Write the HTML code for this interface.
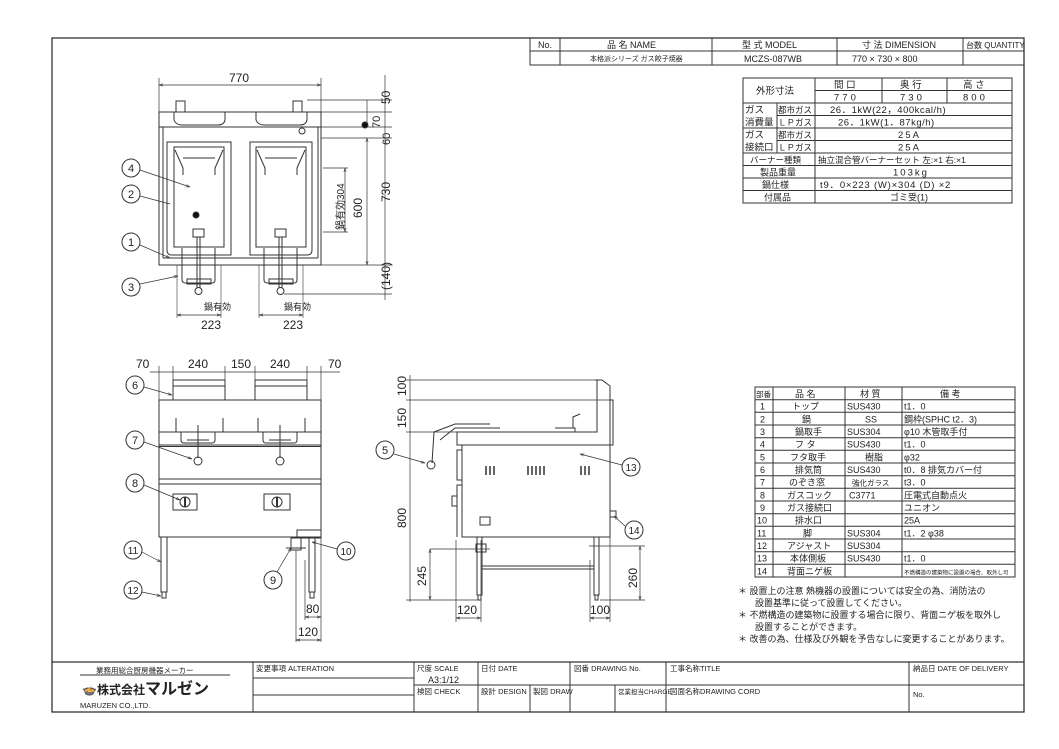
<!DOCTYPE html>
<html><head><meta charset="utf-8"><style>
html,body{margin:0;padding:0;background:#fff;}
svg{display:block;}
text{font-family:"Liberation Sans","Noto Sans CJK JP",sans-serif;fill:#222;}
</style></head><body>
<svg width="1059" height="749" viewBox="0 0 1059 749" xmlns="http://www.w3.org/2000/svg">
<defs>
<marker id="a" viewBox="0 0 10 10" refX="10" refY="5" markerWidth="6" markerHeight="6" orient="auto-start-reverse"><path d="M0,2 L10,5 L0,8" fill="none" stroke="#333" stroke-width="1.2"/></marker>
</defs>
<g fill="none" stroke="#333" stroke-width="1">
<rect x="52" y="38" width="972" height="674" stroke-width="1.3"/>
<rect x="530" y="38" width="494" height="27"/>
<line x1="530" y1="51" x2="1024" y2="51"/>
<line x1="560" y1="38" x2="560" y2="65"/>
<line x1="712" y1="38" x2="712" y2="65"/>
<line x1="837" y1="38" x2="837" y2="65"/>
<line x1="963" y1="38" x2="963" y2="65"/>
<!-- spec table -->
<rect x="743" y="78" width="269" height="125"/>
<line x1="815" y1="78" x2="815" y2="203"/>
<line x1="815" y1="90.5" x2="1012" y2="90.5"/>
<line x1="882" y1="78" x2="882" y2="103"/>
<line x1="947" y1="78" x2="947" y2="103"/>
<line x1="743" y1="103" x2="1012" y2="103"/>
<line x1="777" y1="103" x2="777" y2="153"/>
<line x1="777" y1="115.5" x2="1012" y2="115.5"/>
<line x1="743" y1="128" x2="1012" y2="128"/>
<line x1="777" y1="140.5" x2="1012" y2="140.5"/>
<line x1="743" y1="153" x2="1012" y2="153"/>
<line x1="743" y1="165.5" x2="1012" y2="165.5"/>
<line x1="743" y1="178" x2="1012" y2="178"/>
<line x1="743" y1="190.5" x2="1012" y2="190.5"/>
<!-- parts table -->
<rect x="755" y="387" width="260" height="190"/>
<line x1="773" y1="387" x2="773" y2="577"/>
<line x1="845" y1="387" x2="845" y2="577"/>
<line x1="902" y1="387" x2="902" y2="577"/>
<g>
<line x1="755" y1="399.7" x2="1015" y2="399.7"/><line x1="755" y1="412.3" x2="1015" y2="412.3"/><line x1="755" y1="425" x2="1015" y2="425"/><line x1="755" y1="437.7" x2="1015" y2="437.7"/><line x1="755" y1="450.3" x2="1015" y2="450.3"/><line x1="755" y1="463" x2="1015" y2="463"/><line x1="755" y1="475.7" x2="1015" y2="475.7"/><line x1="755" y1="488.3" x2="1015" y2="488.3"/><line x1="755" y1="501" x2="1015" y2="501"/><line x1="755" y1="513.7" x2="1015" y2="513.7"/><line x1="755" y1="526.3" x2="1015" y2="526.3"/><line x1="755" y1="539" x2="1015" y2="539"/><line x1="755" y1="551.7" x2="1015" y2="551.7"/><line x1="755" y1="564.3" x2="1015" y2="564.3"/>
</g>
<!-- title block -->
<line x1="52" y1="662" x2="1024" y2="662" stroke-width="1.3"/>
<line x1="253" y1="662" x2="253" y2="712"/>
<line x1="414" y1="662" x2="414" y2="712"/>
<line x1="478" y1="662" x2="478" y2="712"/>
<line x1="570" y1="662" x2="570" y2="712"/>
<line x1="666" y1="662" x2="666" y2="712"/>
<line x1="909" y1="662" x2="909" y2="712"/>
<line x1="253" y1="678" x2="414" y2="678"/>
<line x1="253" y1="695" x2="414" y2="695"/>
<line x1="414" y1="685" x2="1024" y2="685"/>
<line x1="530" y1="685" x2="530" y2="712"/>
<line x1="615" y1="685" x2="615" y2="712"/>
<line x1="80" y1="675" x2="230" y2="675"/>

<!-- TOP VIEW -->
<line x1="159" y1="78" x2="159" y2="112" stroke-width="0.7"/>
<line x1="321" y1="78" x2="321" y2="112" stroke-width="0.7"/>
<line x1="159" y1="85" x2="321" y2="85" marker-start="url(#a)" marker-end="url(#a)" stroke-width="0.7"/>
<rect x="159" y="112" width="162" height="153"/>
<line x1="159" y1="127" x2="321" y2="127"/>
<line x1="163" y1="127" x2="163" y2="258"/><line x1="318" y1="127" x2="318" y2="258"/>
<line x1="163" y1="258" x2="318" y2="258"/>
<path d="M174 112 L174 120 Q176 125 182 125 L218 125 Q224 125 225 120 L225 112 Z"/>
<path d="M256 112 L256 120 Q258 125 264 125 L300 125 Q306 125 307 120 L307 112 Z"/>
<rect x="176" y="101" width="9" height="11"/><rect x="293" y="101" width="9" height="11"/>
<circle cx="302" cy="131" r="3"/>
<path d="M167 142 L231 142 L231 255 L172 255 Q167 255 167 250 Z"/>
<path d="M250 142 L312 142 L312 250 Q312 255 307 255 L250 255 Z"/>
<rect x="174" y="147" width="50" height="100"/><rect x="256" y="147" width="50" height="100"/>
<path d="M175 150 L183 168 L183 175 M223 150 L215 168 L215 175 M183 158 L215 158"/>
<path d="M257 150 L265 168 L265 175 M305 150 L297 168 L297 175 M265 158 L297 158"/>
<rect x="193" y="229" width="11" height="8"/><rect x="275" y="229" width="11" height="8"/>
<line x1="197" y1="237" x2="197" y2="288"/><line x1="200" y1="237" x2="200" y2="288"/>
<line x1="279" y1="237" x2="279" y2="288"/><line x1="282" y1="237" x2="282" y2="288"/>
<circle cx="198.5" cy="291" r="3.5"/><circle cx="280.5" cy="291" r="3.5"/>
<path d="M182 248 L182 280 Q182 283 186 283 L212 283 Q215 283 215 280 L215 248"/>
<path d="M264 248 L264 280 Q264 283 268 283 L294 283 Q297 283 297 280 L297 248"/>
<rect x="187" y="279" width="24" height="5"/><rect x="269" y="279" width="24" height="5"/>
<line x1="177" y1="265" x2="177" y2="318" stroke-width="0.6"/><line x1="221" y1="265" x2="221" y2="318" stroke-width="0.6"/>
<line x1="259" y1="265" x2="259" y2="318" stroke-width="0.6"/><line x1="303" y1="265" x2="303" y2="318" stroke-width="0.6"/>
<line x1="177" y1="315" x2="221" y2="315" marker-start="url(#a)" marker-end="url(#a)" stroke-width="0.7"/>
<line x1="259" y1="315" x2="303" y2="315" marker-start="url(#a)" marker-end="url(#a)" stroke-width="0.7"/>
<g stroke-width="0.7">
<line x1="307" y1="100" x2="392" y2="100"/><line x1="321" y1="112" x2="392" y2="112"/>
<line x1="321" y1="127" x2="392" y2="127"/><line x1="321" y1="138" x2="392" y2="138"/>
<line x1="321" y1="265" x2="392" y2="265"/><line x1="284" y1="294" x2="392" y2="294"/>
<line x1="385" y1="75" x2="385" y2="300"/>
<line x1="367" y1="138" x2="367" y2="265" marker-start="url(#a)" marker-end="url(#a)"/>
<line x1="367" y1="100" x2="367" y2="127"/>
<line x1="323" y1="168" x2="348" y2="168"/><line x1="323" y1="232" x2="348" y2="232"/>
<line x1="345" y1="168" x2="345" y2="232" marker-start="url(#a)" marker-end="url(#a)"/>
</g>
<circle cx="365" cy="125" r="3" fill="#111"/>
<circle cx="196" cy="215" r="3" fill="#111"/>
<circle cx="131" cy="168" r="9"/><circle cx="131" cy="194" r="9"/><circle cx="131" cy="242" r="9"/><circle cx="131" cy="287" r="9"/>
<g stroke-width="0.7">
<line x1="140" y1="170" x2="190" y2="187" marker-end="url(#a)"/>
<line x1="140" y1="196" x2="170" y2="204"/>
<line x1="140" y1="245" x2="170" y2="258" marker-end="url(#a)"/>
<line x1="140" y1="284" x2="178" y2="276" marker-end="url(#a)"/>
</g>

<!-- FRONT VIEW -->
<g stroke-width="0.7">
<line x1="159" y1="366" x2="159" y2="400"/><line x1="173" y1="366" x2="173" y2="380"/><line x1="225" y1="366" x2="225" y2="380"/>
<line x1="255" y1="366" x2="255" y2="380"/><line x1="307" y1="366" x2="307" y2="380"/><line x1="321" y1="366" x2="321" y2="400"/>
<line x1="150" y1="372" x2="340" y2="372"/>
</g>
<rect x="173" y="380" width="52" height="20"/><rect x="255" y="380" width="52" height="20"/>
<line x1="173" y1="386" x2="225" y2="386"/><line x1="255" y1="386" x2="307" y2="386"/>
<rect x="159" y="400" width="162" height="137"/>
<line x1="159" y1="432" x2="321" y2="432"/><line x1="159" y1="445" x2="321" y2="445"/><line x1="159" y1="446.5" x2="321" y2="446.5"/>
<line x1="159" y1="479" x2="321" y2="479"/><line x1="159" y1="484" x2="321" y2="484"/>
<path d="M181 432 L181 440 Q181 443 184 443 L212 443 Q215 443 215 440 L215 432 M187 440 L209 440"/>
<path d="M263 432 L263 440 Q263 443 266 443 L294 443 Q297 443 297 440 L297 432 M269 440 L291 440"/>
<path d="M176 432 L176 418 M223 432 L223 418 M258 432 L258 418 M305 432 L305 418"/>
<line x1="198" y1="425" x2="198" y2="458"/><line x1="280" y1="425" x2="280" y2="458"/>
<circle cx="198" cy="461" r="4"/><circle cx="280" cy="461" r="4"/>
<rect x="173" y="494" width="24" height="16"/><rect x="264" y="494" width="26" height="16"/>
<circle cx="185" cy="502" r="5"/><circle cx="277" cy="502" r="5"/>
<line x1="185" y1="497" x2="185" y2="507" stroke-width="2"/><line x1="277" y1="497" x2="277" y2="507" stroke-width="2"/>
<rect x="161" y="537" width="6" height="55"/><rect x="162" y="592" width="4" height="6"/>
<rect x="309" y="537" width="6" height="55"/><rect x="310" y="592" width="4" height="6"/>
<rect x="297" y="530" width="24" height="8"/>
<rect x="291" y="538" width="10" height="12"/>
<line x1="286" y1="548" x2="306" y2="548"/>
<g stroke-width="0.7">
<line x1="296" y1="550" x2="296" y2="642"/><line x1="321" y1="538" x2="321" y2="642"/><line x1="305" y1="560" x2="305" y2="620"/>
<line x1="305" y1="617" x2="321" y2="617" marker-start="url(#a)" marker-end="url(#a)"/>
<line x1="296" y1="640" x2="321" y2="640" marker-start="url(#a)" marker-end="url(#a)"/>
</g>
<circle cx="135" cy="385" r="9"/><circle cx="135" cy="440" r="9"/><circle cx="135" cy="483" r="9"/>
<circle cx="133" cy="550" r="9"/><circle cx="133" cy="590" r="9"/><circle cx="346" cy="551" r="9"/><circle cx="273" cy="580" r="9"/>
<g stroke-width="0.7">
<line x1="144" y1="387" x2="172" y2="395" marker-end="url(#a)"/>
<line x1="144" y1="442" x2="192" y2="459" marker-end="url(#a)"/>
<line x1="144" y1="485" x2="180" y2="500" marker-end="url(#a)"/>
<line x1="142" y1="552" x2="161" y2="562" marker-end="url(#a)"/>
<line x1="142" y1="592" x2="161" y2="596" marker-end="url(#a)"/>
<line x1="337" y1="549" x2="312" y2="542" marker-end="url(#a)"/>
<line x1="277" y1="572" x2="291" y2="548" marker-end="url(#a)"/>
</g>

<!-- SIDE VIEW -->
<g stroke-width="0.7">
<line x1="406" y1="380" x2="602" y2="380"/><line x1="406" y1="400" x2="610" y2="400"/><line x1="406" y1="432" x2="470" y2="432"/>
<line x1="406" y1="600" x2="480" y2="600"/>
<line x1="410" y1="375" x2="410" y2="602"/>
<line x1="430" y1="549" x2="490" y2="549"/><line x1="430" y1="549" x2="430" y2="600" marker-start="url(#a)" marker-end="url(#a)"/>
<line x1="589" y1="546" x2="645" y2="546"/><line x1="600" y1="600" x2="645" y2="600"/>
<line x1="640" y1="546" x2="640" y2="600" marker-start="url(#a)" marker-end="url(#a)"/>
<line x1="456" y1="540" x2="456" y2="622"/><line x1="481" y1="540" x2="481" y2="622"/>
<line x1="456" y1="618" x2="481" y2="618" marker-start="url(#a)" marker-end="url(#a)"/>
<line x1="590" y1="560" x2="590" y2="622"/><line x1="610" y1="537" x2="610" y2="622"/>
<line x1="590" y1="618" x2="610" y2="618" marker-start="url(#a)" marker-end="url(#a)"/>
</g>
<path d="M595 380 L602 380 L610 386 L610 445 M597 380 L597 432 L457 432 L457 445 L610 445"/>
<rect x="610" y="400" width="3" height="45"/>
<path d="M432 463 L434 432 L455 424 L490 424"/>
<path d="M440 440 L455 428 L500 428"/>
<circle cx="431" cy="465" r="4"/>
<path d="M555 428 L575 428 L575 432 M573 428 L573 417 L580 414"/>
<rect x="462" y="445" width="148" height="92"/>
<path d="M462 450 L457 450 L457 480 L462 480 M462 485 L457 485 L457 537"/>
<rect x="452" y="496" width="5" height="10"/>
<rect x="480" y="517" width="10" height="8"/>
<rect x="610" y="511" width="6" height="6"/>
<g stroke-width="1.5">
<line x1="486" y1="466" x2="486" y2="475"/><line x1="490" y1="466" x2="490" y2="475"/><line x1="494" y1="466" x2="494" y2="475"/>
<line x1="528" y1="466" x2="528" y2="475"/><line x1="532" y1="466" x2="532" y2="475"/><line x1="536" y1="466" x2="536" y2="475"/><line x1="540" y1="466" x2="540" y2="475"/><line x1="544" y1="466" x2="544" y2="475"/>
<line x1="581" y1="466" x2="581" y2="475"/><line x1="585" y1="466" x2="585" y2="475"/><line x1="589" y1="466" x2="589" y2="475"/>
</g>
<rect x="477" y="537" width="5" height="58"/><rect x="478" y="595" width="3" height="5"/>
<rect x="594" y="537" width="5" height="58"/><rect x="595" y="595" width="3" height="5"/>
<line x1="482" y1="566" x2="594" y2="566"/><line x1="482" y1="569" x2="594" y2="569"/>
<rect x="476" y="544" width="10" height="8"/>
<circle cx="385" cy="450" r="9"/><circle cx="631" cy="467" r="9"/><circle cx="634" cy="530" r="9"/>
<g stroke-width="0.7">
<line x1="394" y1="454" x2="425" y2="463" marker-end="url(#a)"/>
<line x1="622" y1="465" x2="580" y2="454" marker-end="url(#a)"/>
<line x1="625" y1="526" x2="614" y2="516" marker-end="url(#a)"/>
</g>
</g>

<!-- TEXT -->
<g font-size="9">
<text x="538" y="48">No.</text>
<text x="607" y="48">品 名  NAME</text>
<text x="742" y="48">型 式  MODEL</text>
<text x="862" y="48">寸 法  DIMENSION</text>
<text x="966" y="48" font-size="8">台数 QUANTITY</text>
<text x="590" y="61" font-size="7">本格派シリーズ ガス餃子焼器</text>
<text x="744" y="62">MCZS-087WB</text>
<text x="852" y="62">770 × 730 × 800</text>
</g>
<g font-size="9.5">
<text x="756" y="94">外形寸法</text>
<text x="834" y="88">間  口</text><text x="900" y="88">奥  行</text><text x="963" y="88">高  さ</text>
<text x="834" y="100.5" letter-spacing="3">770</text><text x="900" y="100.5" letter-spacing="3">730</text><text x="963" y="100.5" letter-spacing="3">800</text>
<text x="745" y="113">ガス</text><text x="745" y="125.5">消費量</text>
<text x="778" y="113" font-size="8.5">都市ガス</text><text x="778" y="125.5" font-size="8.5">ＬＰガス</text>
<text x="830" y="113" letter-spacing="0.5">26．1kW(22，400kcal/h)</text>
<text x="838" y="125.5" letter-spacing="0.5">26．1kW(1．87kg/h)</text>
<text x="745" y="138">ガス</text><text x="745" y="150.5">接続口</text>
<text x="778" y="138" font-size="8.5">都市ガス</text><text x="778" y="150.5" font-size="8.5">ＬＰガス</text>
<text x="898" y="138" letter-spacing="2">25A</text><text x="898" y="150.5" letter-spacing="2">25A</text>
<text x="750" y="163" font-size="8.5">バーナー種類</text>
<text x="818" y="163" font-size="8.5">抽立混合管バーナーセット  左:×1  右:×1</text>
<text x="760" y="175.5" font-size="9">製品重量</text><text x="893" y="175.5" letter-spacing="2">103kg</text>
<text x="762" y="188" font-size="9">鍋仕様</text><text x="820" y="188" letter-spacing="0.8">t9．0×223 (W)×304 (D)  ×2</text>
<text x="764" y="200.5" font-size="9">付属品</text><text x="890" y="200.5" font-size="9">ゴミ受(1)</text>
</g>
<g font-size="9">
<text x="756" y="397" font-size="7.5">部番</text><text x="795" y="397">品   名</text><text x="860" y="397">材  質</text><text x="940" y="397">備    考</text>
<text x="760" y="409.7">1</text><text x="792" y="409.7">トップ</text><text x="847" y="409.7">SUS430</text><text x="904" y="409.7">t1．0</text>
<text x="760" y="422.3">2</text><text x="802" y="422.3">鍋</text><text x="865" y="422.3">SS</text><text x="904" y="422.3">鋼枠(SPHC t2．3)</text>
<text x="760" y="435">3</text><text x="795" y="435">鍋取手</text><text x="847" y="435">SUS304</text><text x="904" y="435">φ10  木管取手付</text>
<text x="760" y="447.7">4</text><text x="795" y="447.7">フ  タ</text><text x="847" y="447.7">SUS430</text><text x="904" y="447.7">t1．0</text>
<text x="760" y="460.3">5</text><text x="790" y="460.3">フタ取手</text><text x="865" y="460.3">樹脂</text><text x="904" y="460.3">φ32</text>
<text x="760" y="473">6</text><text x="795" y="473">排気筒</text><text x="847" y="473">SUS430</text><text x="904" y="473">t0．8 排気カバー付</text>
<text x="760" y="485.7">7</text><text x="789" y="485.7">のぞき窓</text><text x="852" y="485.7" font-size="7.5">強化ガラス</text><text x="904" y="485.7">t3．0</text>
<text x="760" y="498.3">8</text><text x="787" y="498.3">ガスコック</text><text x="849" y="498.3">C3771</text><text x="904" y="498.3">圧電式自動点火</text>
<text x="760" y="511">9</text><text x="787" y="511">ガス接続口</text><text x="904" y="511">ユニオン</text>
<text x="757" y="523.7">10</text><text x="795" y="523.7">排水口</text><text x="904" y="523.7">25A</text>
<text x="757" y="536.3">11</text><text x="803" y="536.3">脚</text><text x="847" y="536.3">SUS304</text><text x="904" y="536.3">t1．2 φ38</text>
<text x="757" y="549">12</text><text x="787" y="549">アジャスト</text><text x="847" y="549">SUS304</text>
<text x="757" y="561.7">13</text><text x="790" y="561.7">本体側板</text><text x="847" y="561.7">SUS430</text><text x="904" y="561.7">t1．0</text>
<text x="757" y="574.3">14</text><text x="787" y="574.3">背面ニゲ板</text><text x="904" y="574.3" font-size="5.5">不燃構造の建築物に設置の場合、取外し可</text>
</g>
<g font-size="9">
<text x="738" y="594">＊  設置上の注意  熱機器の設置については安全の為、消防法の</text>
<text x="755" y="606">設置基準に従って設置してください。</text>
<text x="738" y="618">＊  不燃構造の建築物に設置する場合に限り、背面ニゲ板を取外し</text>
<text x="755" y="630">設置することができます。</text>
<text x="738" y="642">＊  改善の為、仕様及び外観を予告なしに変更することがあります。</text>
</g>
<g font-size="7.5">
<text x="96" y="673">業務用総合厨房機器メーカー</text>
<text x="82" y="694" font-size="12" font-weight="bold">🍲株式会社<tspan font-size="16">マルゼン</tspan></text>
<text x="80" y="708">MARUZEN CO.,LTD.</text>
<text x="256" y="671">変更事項  ALTERATION</text>
<text x="417" y="671">尺度 SCALE</text><text x="428" y="683" font-size="9">A3:1/12</text>
<text x="481" y="671">日付 DATE</text><text x="574" y="671">図番 DRAWING No.</text>
<text x="670" y="671">工事名称TITLE</text><text x="913" y="671">納品日  DATE OF DELIVERY</text>
<text x="417" y="694">検図 CHECK</text><text x="481" y="694">設計 DESIGN</text><text x="533" y="694">製図 DRAW</text>
<text x="618" y="694" font-size="6.5">営業担当CHARGE</text><text x="670" y="694">図面名称DRAWING CORD</text>
<text x="913" y="697">No.</text>
</g>
<g font-size="12">
<text x="229" y="82">770</text>
<text x="201" y="329">223</text><text x="283" y="329">223</text>
<text x="204" y="310" font-size="9">鍋有効</text><text x="284" y="310" font-size="9">鍋有効</text>
<text transform="translate(390,104) rotate(-90)">50</text>
<text transform="translate(380,128) rotate(-90)" font-size="11">70</text>
<text transform="translate(390,145) rotate(-90)" font-size="11">60</text>
<text transform="translate(390,202) rotate(-90)">730</text>
<text transform="translate(362,218) rotate(-90)">600</text>
<text transform="translate(344,230) rotate(-90)" font-size="10">鍋有効304</text>
<text transform="translate(390,290) rotate(-90)">(140)</text>
<text x="136" y="368">70</text><text x="188" y="368">240</text><text x="231" y="368">150</text><text x="270" y="368">240</text><text x="328" y="368">70</text>
<text x="306" y="613">80</text><text x="298" y="636">120</text>
<text transform="translate(406,396) rotate(-90)">100</text>
<text transform="translate(406,428) rotate(-90)">150</text>
<text transform="translate(406,528) rotate(-90)">800</text>
<text transform="translate(426,586) rotate(-90)">245</text>
<text transform="translate(637,588) rotate(-90)">260</text>
<text x="457" y="614">120</text><text x="590" y="614">100</text>
</g>
<g font-size="11" text-anchor="middle">
<text x="131" y="172">4</text><text x="131" y="198">2</text><text x="131" y="246">1</text><text x="131" y="291">3</text>
<text x="135" y="389">6</text><text x="135" y="444">7</text><text x="135" y="487">8</text>
<text x="133" y="554" font-size="10">11</text><text x="133" y="594" font-size="10">12</text>
<text x="346" y="555" font-size="10">10</text><text x="273" y="584">9</text>
<text x="385" y="454">5</text><text x="631" y="471" font-size="10">13</text><text x="634" y="534" font-size="10">14</text>
</g>
</svg>
</body></html>
